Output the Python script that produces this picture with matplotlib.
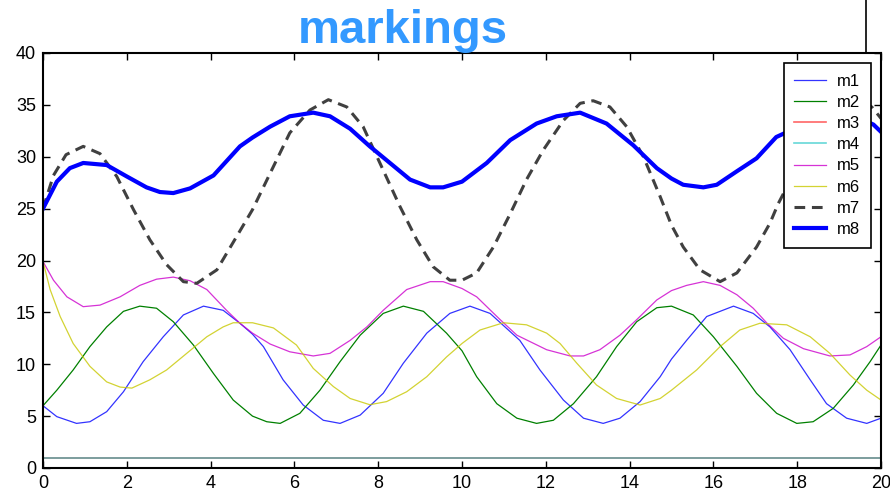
import matplotlib
matplotlib.use("Agg")
import matplotlib.pyplot as plt
from matplotlib.lines import Line2D

plt.rcParams["font.family"] = ["Liberation Sans", "DejaVu Sans"]

# values
m1_x = [0, 0.33, 0.8, 1.12, 1.52, 1.92, 2.39, 2.87, 3.35, 3.83,
        4.3, 4.7, 5.0, 5.26, 5.73, 6.21, 6.69, 7.09, 7.57, 8.12,
        8.6, 9.16, 9.71, 10.19, 10.67, 11.38, 11.86, 12.42, 12.9, 13.37,
        13.77, 14.25, 14.73, 15.0, 15.36, 15.84, 16.48, 16.95, 17.35, 17.83,
        18.31, 18.7, 19.18, 19.66, 20]
m1_y = [6.0, 4.95, 4.3, 4.46, 5.43, 7.35, 10.25, 12.65, 14.75, 15.6,
        15.2, 13.95, 12.9, 11.7, 8.5, 6.07, 4.6, 4.3, 5.1, 7.2,
        10.1, 13.0, 14.9, 15.6, 14.9, 12.3, 9.45, 6.55, 4.8, 4.3,
        4.8, 6.4, 8.8, 10.5, 12.3, 14.6, 15.6, 14.9, 13.6, 11.4,
        8.5, 6.2, 4.8, 4.3, 4.8]

m2_x = [0, 0.33, 0.72, 1.12, 1.52, 1.92, 2.31, 2.71, 3.11, 3.59,
        4.07, 4.54, 5.0, 5.34, 5.66, 6.13, 6.61, 7.09, 7.57, 8.12,
        8.6, 9.08, 9.63, 10.0, 10.35, 10.83, 11.31, 11.78, 12.18, 12.66,
        13.21, 13.69, 14.17, 14.65, 15.0, 15.52, 16.0, 16.56, 17.03, 17.51,
        17.99, 18.38, 18.86, 19.34, 19.74, 20]
m2_y = [6.0, 7.5, 9.45, 11.7, 13.6, 15.1, 15.6, 15.4, 14.1, 11.85,
        9.1, 6.55, 5.0, 4.46, 4.3, 5.27, 7.5, 10.25, 12.8, 14.9,
        15.6, 15.1, 13.0, 11.3, 8.8, 6.2, 4.8, 4.3, 4.6, 6.2,
        8.8, 11.7, 14.1, 15.45, 15.6, 14.75, 12.65, 9.8, 7.2, 5.27,
        4.3, 4.46, 5.75, 8.0, 10.25, 11.85]

m3_x = [0, 20]
m3_y = [1, 1]
m4_x = [0, 20]
m4_y = [1, 1]

m5_x = [0, 0.25, 0.57, 0.96, 1.36, 1.84, 2.31, 2.71, 3.11, 3.51,
        3.91, 4.38, 4.7, 5.0, 5.42, 5.89, 6.45, 6.85, 7.33, 7.73,
        8.12, 8.68, 9.24, 9.55, 10.0, 10.35, 10.91, 11.31, 12.02, 12.58,
        12.9, 13.29, 13.77, 14.17, 14.65, 15.0, 15.36, 15.76, 16.16, 16.56,
        16.95, 17.27, 17.67, 18.15, 18.78, 19.26, 19.66, 20]
m5_y = [19.9, 18.1, 16.5, 15.55, 15.7, 16.5, 17.6, 18.2, 18.4, 18.05,
        17.2, 15.2, 13.95, 13.0, 11.95, 11.2, 10.8, 11.05, 12.3, 13.6,
        15.2, 17.2, 17.96, 17.96, 17.3, 16.5, 14.3, 12.8, 11.4, 10.8,
        10.8, 11.4, 12.8, 14.3, 16.2, 17.1, 17.6, 17.96, 17.6, 16.7,
        15.4, 14.0, 12.5, 11.5, 10.8, 10.9, 11.7, 12.65]

m6_x = [0, 0.17, 0.41, 0.72, 1.12, 1.52, 1.84, 2.12, 2.55, 2.95,
        3.43, 3.91, 4.3, 4.54, 5.0, 5.5, 6.05, 6.45, 6.93, 7.33,
        7.8, 8.2, 8.68, 9.16, 9.63, 10.0, 10.43, 10.99, 11.54, 12.02,
        12.34, 12.74, 13.21, 13.69, 14.25, 14.73, 15.0, 15.6, 16.16, 16.63,
        17.11, 17.75, 18.31, 18.78, 19.26, 19.66, 20]
m6_y = [19.9, 17.2, 14.6, 12.0, 9.8, 8.3, 7.8, 7.7, 8.5, 9.45,
        11.05, 12.65, 13.6, 14.0, 14.0, 13.5, 11.85, 9.6, 7.85, 6.7,
        6.1, 6.4, 7.35, 8.8, 10.7, 12.0, 13.3, 14.0, 13.8, 13.0,
        12.0, 10.1, 8.0, 6.7, 6.07, 6.7, 7.5, 9.45, 11.7, 13.3,
        13.95, 13.8, 12.65, 11.05, 8.96, 7.5, 6.55]

m7_x = [0, 0.25, 0.55, 0.96, 1.36, 1.76, 2.16, 2.55, 2.95, 3.35,
        3.67, 4.15, 4.62, 5.0, 5.42, 5.89, 6.37, 6.81, 7.25, 7.64,
        8.12, 8.52, 8.92, 9.31, 9.71, 10.0, 10.35, 10.75, 11.15, 11.54,
        11.94, 12.42, 12.82, 13.13, 13.53, 13.93, 14.33, 14.73, 15.0, 15.28,
        15.68, 16.16, 16.56, 17.03, 17.35, 17.55, 17.95, 18.35, 18.8, 19.2,
        19.45, 19.78, 20]
m7_y = [25.0, 28.2, 30.2, 31.0, 30.3, 28.1, 24.9, 22.0, 19.6, 17.96,
        17.8, 19.1, 22.3, 24.9, 28.4, 32.3, 34.5, 35.5, 34.8, 32.9,
        28.7, 25.2, 22.0, 19.4, 18.1, 18.1, 18.8, 21.3, 24.5, 27.8,
        30.65, 33.5, 35.15, 35.4, 34.8, 32.9, 30.0, 26.15, 23.4, 21.3,
        19.1, 17.96, 18.8, 21.3, 23.6, 25.5, 28.6, 31.3, 33.8, 35.1,
        35.4, 34.8, 33.7]

m8_x = [0, 0.33, 0.64, 0.96, 1.52, 2.0, 2.47, 2.79, 3.11, 3.51,
        4.07, 4.7, 5.0, 5.42, 5.89, 6.45, 6.85, 7.33, 7.8, 8.28,
        8.76, 9.24, 9.55, 10.0, 10.59, 11.15, 11.78, 12.26, 12.82, 13.45,
        14.09, 14.65, 15.0, 15.28, 15.76, 16.08, 16.56, 17.03, 17.5, 18.2,
        18.65, 19.2, 19.82, 20]
m8_y = [25.0, 27.6, 28.9, 29.4, 29.2, 28.1, 27.05, 26.6, 26.5, 26.95,
        28.2, 31.0, 31.85, 32.9, 33.9, 34.25, 33.9, 32.7, 31.0, 29.4,
        27.8, 27.05, 27.05, 27.6, 29.4, 31.6, 33.2, 33.9, 34.25, 33.2,
        31.1, 28.9, 27.9, 27.3, 27.05, 27.3, 28.6, 29.85, 31.9, 33.2,
        33.9, 34.25, 33.1, 32.4]

x_ticks = [0, 2, 4, 6, 8, 10, 12, 14, 16, 18, 20]
y_ticks = [0, 5, 10, 15, 20, 25, 30, 35, 40]

fig = plt.figure(figsize=(8.9, 4.97), dpi=100)
ax = fig.add_axes([43 / 890, 29 / 497, 838 / 890, 415 / 497])

ax.plot(m1_x, m1_y, color="#0000ff", lw=0.9, alpha=0.8, label="m1")
ax.plot(m2_x, m2_y, color="#008000", lw=0.9, label="m2")
ax.plot(m3_x, m3_y, color="#ff0000", lw=1.2, alpha=0.6, label="m3")
ax.plot(m4_x, m4_y, color="#00bfbf", lw=1.2, alpha=0.6, label="m4")
ax.plot(m5_x, m5_y, color="#cc00cc", lw=0.9, alpha=0.8, label="m5")
ax.plot(m6_x, m6_y, color="#c8c800", lw=0.9, alpha=0.8, label="m6")
ax.plot(m7_x, m7_y, color="#404040", lw=2.2, ls=(0, (3.5, 2.2)), label="m7")
ax.plot(m8_x, m8_y, color="#0000ff", lw=3, label="m8")

ax.set_xlim(0, 20)
ax.set_ylim(0, 40)
ax.set_xticks(x_ticks)
ax.set_yticks(y_ticks)
ax.tick_params(direction="in", length=5, width=1, top=True, right=True,
               labelsize=13, pad=5)
for s in ax.spines.values():
    s.set_linewidth(1.5)

leg = ax.legend(loc="upper right", bbox_to_anchor=(828 / 838, 405 / 415),
                fontsize=12, frameon=True, fancybox=False, framealpha=1,
                edgecolor="black", handlelength=1.9, labelspacing=0.37,
                borderpad=0.65, handletextpad=0.65, borderaxespad=0)
leg.get_frame().set_linewidth(1.2)

fig.text(0.4522, 0.914, "markings", color="#3399ff", fontsize=34,
         fontweight="bold", ha="center", va="baseline")
fig.add_artist(Line2D([866 / 890, 866 / 890], [1, 444 / 497], color="black",
                      lw=1.2, transform=fig.transFigure))

fig.savefig("out.png", dpi=100)
